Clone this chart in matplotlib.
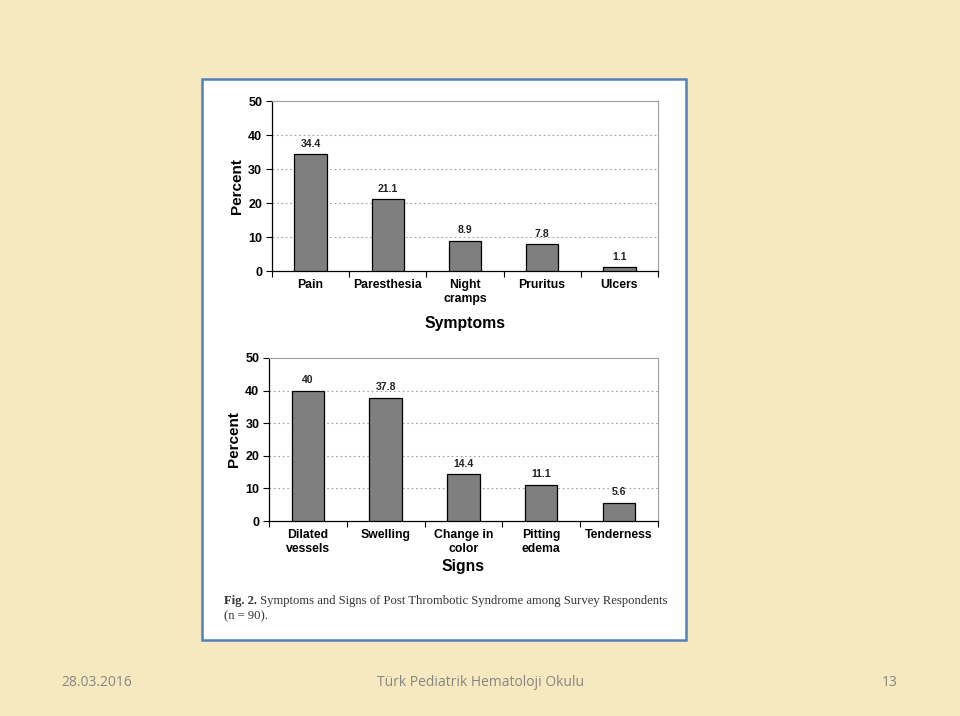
import numpy as np
import matplotlib.pyplot as plt
from matplotlib.patches import Rectangle

symptom_labels = ["Pain", "Paresthesia", "Night\ncramps", "Pruritus", "Ulcers"]
symptom_values = [34.4, 21.1, 8.9, 7.8, 1.1]
sign_labels = ["Dilated\nvessels", "Swelling", "Change in\ncolor", "Pitting\nedema", "Tenderness"]
sign_values = [40, 37.8, 14.4, 11.1, 5.6]
y_ticks = [0, 10, 20, 30, 40, 50]

BG = "#F7E9BF"
BAR = "#7F7F7F"
FOOT = "#858585"
FRAME = "#4F81BD"
SERIF = ["Liberation Serif", "DejaVu Serif"]

plt.rcParams["font.family"] = ["Liberation Sans", "DejaVu Sans"]

fig = plt.figure(figsize=(9.6, 7.16), dpi=100)
fig.patch.set_facecolor(BG)

panel = Rectangle((0.2104, 0.1061), 0.504, 0.7835, transform=fig.transFigure,
                  facecolor="white", edgecolor=FRAME, linewidth=1.8, zorder=-5)
fig.add_artist(panel)


def bar_panel(rect, labels, values, xlabel, labelpad):
    ax = fig.add_axes(rect)
    ax.set_facecolor("white")
    x = np.arange(len(values))
    bars = ax.bar(x, values, width=0.42, color=BAR, edgecolor="black", linewidth=0.9, zorder=3)
    for b, v in zip(bars, values):
        ax.annotate(f"{v:g}", (b.get_x() + b.get_width() / 2, v), xytext=(0, 4),
                    textcoords="offset points", ha="center", va="bottom",
                    fontsize=7.5, fontweight="bold", color="#222222")
    ax.set_xlim(-0.5, len(values) - 0.5)
    ax.set_ylim(0, 50)
    ax.set_yticks(y_ticks)
    ax.set_yticklabels([str(t) for t in y_ticks], fontsize=9, fontweight="bold")
    ax.set_xticks(x)
    ax.set_xticklabels(labels, fontsize=8.8, fontweight="bold", linespacing=1.15)
    ax.set_xticks(np.arange(-0.5, len(values), 1), minor=True)
    ax.tick_params(axis="x", which="major", length=0, pad=6)
    ax.tick_params(axis="x", which="minor", length=4, width=0.8, direction="out")
    ax.tick_params(axis="y", length=4, width=0.8, direction="out", pad=3)
    for t in [10, 20, 30, 40]:
        ax.axhline(t, color="#A0A0A0", linestyle=(0, (1.5, 2.5)), linewidth=0.8, zorder=1)
    ax.spines["top"].set_color("#A0A0A0")
    ax.spines["right"].set_color("#A0A0A0")
    ax.spines["top"].set_linewidth(0.8)
    ax.spines["right"].set_linewidth(0.8)
    ax.spines["left"].set_linewidth(0.9)
    ax.spines["bottom"].set_linewidth(0.9)
    ax.set_ylabel("Percent", fontsize=11, fontweight="bold", labelpad=3)
    ax.set_xlabel(xlabel, fontsize=11.3, fontweight="bold", labelpad=labelpad)
    return ax


bar_panel([0.2833, 0.6215, 0.402, 0.2374], symptom_labels, symptom_values, "Symptoms", 8)
bar_panel([0.2802, 0.2723, 0.405, 0.2277], sign_labels, sign_values, "Signs", 3)

fig_lbl = fig.text(0.2333, 1 - 601 / 716, "Fig. 2.", fontsize=9.1, fontweight="bold",
                   family=SERIF, color="#333333", va="center")
plt.annotate(" Symptoms and Signs of Post Thrombotic Syndrome among Survey Respondents",
             xy=(1, 0.5), xycoords=fig_lbl, va="center", ha="left",
             fontsize=9.1, family=SERIF, color="#333333", annotation_clip=False)
fig.text(0.2333, 1 - 616 / 716, "(n = 90).", fontsize=9.1,
         family=SERIF, color="#333333", va="center")

fig.text(0.064, 1 - 683 / 716, "28.03.2016", fontsize=10, color=FOOT, va="center", ha="left",
         family=["Open Sans", "DejaVu Sans"])
fig.text(0.501, 1 - 683 / 716, "Türk Pediatrik Hematoloji Okulu", fontsize=10, color=FOOT,
         va="center", ha="center", family=["Open Sans", "DejaVu Sans"])
fig.text(0.935, 1 - 683 / 716, "13", fontsize=10, color=FOOT, va="center", ha="right",
         family=["Open Sans", "DejaVu Sans"])

fig.savefig("out.png", dpi=100, facecolor=BG)
